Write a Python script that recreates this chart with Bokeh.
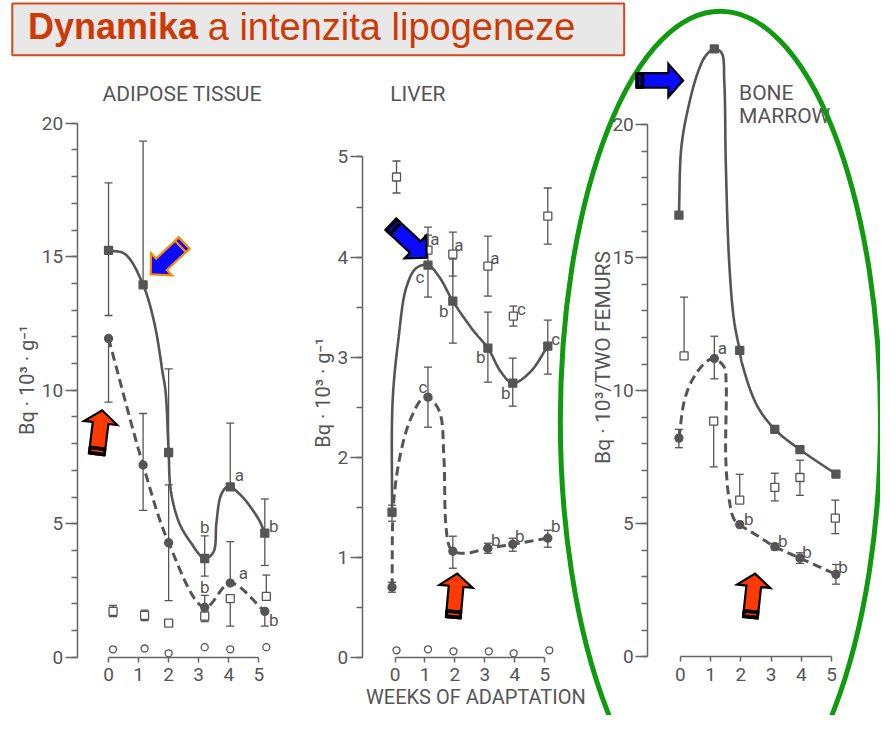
import numpy as np
from bokeh.plotting import figure
from bokeh.models import Range1d, LinearAxis, SingleIntervalTicker
from bokeh.core.properties import value
from bokeh.embed import file_html
from bokeh.resources import INLINE

# ------------------------------------------------------------------ data
week_ticks = [0, 1, 2, 3, 4, 5]

# ADIPOSE TISSUE  (Bq.10^3.g^-1)
adipose_weeks = [0.0, 1.15, 2.0, 3.2, 4.05, 5.2]
adipose_solid = [15.24, 13.95, 7.67, 3.70, 6.38, 4.65]
adipose_solid_up = [2.53, 5.38, 3.13, 0.85, 2.39, 1.28]
adipose_solid_dn = [2.44, 0.0, 0.0, 0.66, 0.0, 1.21]
adipose_solid_sig = ["", "", "", "b", "a", "b"]
adipose_dashed = [11.94, 7.20, 4.29, 1.87, 2.78, 1.72]
adipose_dashed_up = [0.0, 1.93, 2.17, 0.45, 1.55, 0.0]
adipose_dashed_dn = [2.38, 1.70, 2.17, 0.0, 0.0, 0.55]
adipose_dashed_sig = ["", "", "", "b", "a", "b"]
adipose_open_weeks = [0.15, 1.2, 2.0, 3.2, 4.05, 5.25]
adipose_square = [1.72, 1.57, 1.28, 1.54, 2.20, 2.28]
adipose_square_up = [0.22, 0.2, 0.1, 0.2, 0.0, 0.8]
adipose_square_dn = [0.2, 0.2, 0.1, 0.2, 1.03, 0.0]
adipose_circle = [0.30, 0.33, 0.15, 0.38, 0.30, 0.38]
# traced shape of the drawn solid curve
adipose_curve_x = [0.0, 0.55, 1.15, 1.53, 1.8, 1.9, 2.0, 2.07, 2.35, 2.73, 3.2, 3.49, 3.59, 3.73, 3.92, 4.05, 4.46, 5.0, 5.2]
adipose_curve_y = [15.24, 15.1, 13.95, 12.49, 10.66, 9.93, 7.67, 6.26, 5.04, 4.31, 3.70, 3.94, 5.04, 6.04, 6.37, 6.38, 6.0, 5.16, 4.65]

# LIVER  (Bq.10^3.g^-1)
liver_weeks = [-0.1, 1.1, 1.93, 3.1, 3.93, 5.1]
liver_solid = [1.45, 3.92, 3.56, 3.09, 2.74, 3.11]
liver_solid_up = [0.07, 0.30, 0.42, 0.36, 0.25, 0.26]
liver_solid_dn = [0.09, 0.32, 0.42, 0.34, 0.23, 0.28]
liver_solid_sig = ["", "c", "b", "b", "b", "c"]
liver_dashed = [0.70, 2.60, 1.06, 1.09, 1.13, 1.19]
liver_dashed_up = [0.05, 0.30, 0.15, 0.05, 0.06, 0.08]
liver_dashed_dn = [0.05, 0.30, 0.17, 0.05, 0.07, 0.09]
liver_dashed_sig = ["", "c", "", "b", "b", "b"]
liver_open_weeks = [0.05, 1.1, 1.93, 3.1, 3.95, 5.1]
liver_square = [4.80, 4.07, 4.03, 3.91, 3.41, 4.41]
liver_square_up = [0.16, 0.23, 0.22, 0.30, 0.10, 0.28]
liver_square_dn = [0.16, 0.0, 0.22, 0.30, 0.10, 0.28]
liver_square_sig = ["", "a", "a", "a", "c", ""]
liver_circle_weeks = [0.05, 1.1, 1.95, 3.13, 3.96, 5.15]
liver_circle = [0.07, 0.08, 0.06, 0.06, 0.04, 0.07]
liver_solid_curve_x = [-0.1, -0.08, 0.11, 0.38, 0.71, 1.1, 1.48, 1.93, 2.6, 3.1, 3.54, 3.93, 4.51, 5.1]
liver_solid_curve_y = [1.45, 2.56, 3.17, 3.70, 3.89, 3.92, 3.80, 3.56, 3.27, 3.09, 2.85, 2.74, 2.85, 3.11]
liver_dashed_curve_x = [-0.1, -0.05, 0.16, 0.49, 0.92, 1.1, 1.48, 1.63, 1.69, 1.8, 1.93, 2.35, 3.1, 3.93, 5.1]
liver_dashed_curve_y = [0.70, 1.53, 2.0, 2.36, 2.59, 2.60, 2.46, 2.0, 1.35, 1.12, 1.06, 1.04, 1.09, 1.13, 1.19]

# BONE MARROW  (Bq.10^3 / two femurs)
bm_weeks = [-0.05, 1.12, 1.96, 3.12, 3.95, 5.14]
bm_solid = [16.6, 22.85, 11.52, 8.55, 7.79, 6.87]
bm_dashed = [8.22, 11.21, 4.97, 4.14, 3.71, 3.10]
bm_dashed_up = [0.33, 0.84, 0.0, 0.12, 0.20, 0.37]
bm_dashed_dn = [0.36, 0.76, 0.0, 0.12, 0.20, 0.37]
bm_dashed_sig = ["", "a", "b", "b", "b", "b"]
bm_open_weeks = [0.12, 1.1, 1.96, 3.12, 3.95, 5.12]
bm_square = [11.31, 8.86, 5.89, 6.37, 6.74, 5.21]
bm_square_up = [2.21, 0.0, 0.97, 0.53, 0.65, 0.68]
bm_square_dn = [0.0, 1.72, 0.0, 0.51, 0.67, 0.58]
bm_solid_curve_x = [-0.05, 0.03, 0.25, 0.57, 0.84, 1.12, 1.36, 1.45, 1.5, 1.61, 1.77, 1.96, 2.03, 2.52, 3.12, 3.95, 5.14]
bm_solid_curve_y = [16.6, 19.15, 20.6, 21.95, 22.6, 22.85, 22.7, 21.6, 18.53, 14.86, 12.66, 11.52, 11.06, 9.47, 8.55, 7.79, 6.87]
bm_dashed_curve_x = [-0.05, 0.15, 0.48, 0.9, 1.12, 1.45, 1.51, 1.5, 1.61, 1.77, 1.96, 2.52, 3.12, 3.95, 5.14]
bm_dashed_curve_y = [8.22, 9.72, 10.58, 11.13, 11.21, 10.88, 10.33, 7.39, 5.92, 5.18, 4.97, 4.57, 4.14, 3.71, 3.10]

title_bold = "Dynamika"
title_rest = "a intenzita lipogeneze"

# ------------------------------------------------------------------ style / layout
W, H = 880, 715          # figure size in screen px
RW, RH = 896, 731        # design space (reference pixels), scaled onto the figure
GRAY = "#555555"
AXC = "#666666"
FONT = "Roboto"
PANELS = {
    "adip": dict(x0=110.0, xs=30.6, y0=671.5, ys=27.3, yaxis_px=78.0, ymax=20, yint=5, yminor=5),
    "liver": dict(x0=401.7, xs=30.5, y0=671.5, ys=102.3, yaxis_px=368.3, ymax=5, yint=1, yminor=2),
    "bm": dict(x0=692.3, xs=30.8, y0=671.0, ys=27.2, yaxis_px=659.0, ymax=20, yint=5, yminor=5),
}

p = figure(width=W, height=H, output_backend="svg", toolbar_location=None,
           x_range=Range1d(0, RW), y_range=Range1d(RH, 0),
           x_axis_type=None, y_axis_type=None, min_border=0,
           outline_line_color=None)
p.background_fill_color = "white"
p.border_fill_color = "white"

for name, c in PANELS.items():
    p.extra_x_ranges[name] = Range1d((0 - c["x0"]) / c["xs"], (RW - c["x0"]) / c["xs"])
    p.extra_y_ranges[name] = Range1d((c["y0"] - RH) / c["ys"], (c["y0"] - 0) / c["ys"])
    yax = LinearAxis(x_range_name=name, y_range_name=name,
                     fixed_location=(c["yaxis_px"] - c["x0"]) / c["xs"],
                     bounds=(0, c["ymax"]),
                     ticker=SingleIntervalTicker(interval=c["yint"], num_minor_ticks=c["yminor"]))
    yax.major_tick_out = 12
    yax.major_tick_in = 0
    yax.minor_tick_out = 6
    yax.minor_tick_in = 0
    yax.major_label_standoff = 2
    xax = LinearAxis(x_range_name=name, y_range_name=name, fixed_location=0,
                     bounds=(0, 5),
                     ticker=SingleIntervalTicker(interval=1, num_minor_ticks=0))
    xax.major_tick_out = 5
    xax.major_tick_in = 0
    xax.minor_tick_out = 0
    xax.major_label_standoff = 6
    for ax in (yax, xax):
        ax.axis_line_color = AXC
        ax.axis_line_width = 1.5
        ax.major_tick_line_color = AXC
        ax.major_tick_line_width = 1.5
        ax.minor_tick_line_color = AXC
        ax.minor_tick_line_width = 1.5
        ax.major_label_text_font = FONT
        ax.major_label_text_font_size = "19px"
        ax.major_label_text_color = GRAY
    p.add_layout(yax, "left")
    p.add_layout(xax, "below")


def smooth(xs, ys, c, n=14):
    """centripetal Catmull-Rom through traced curve points (knots spaced in pixels)."""
    P = np.column_stack([np.asarray(xs, float) * c["xs"], np.asarray(ys, float) * c["ys"]])
    P = np.vstack([2 * P[0] - P[1], P, 2 * P[-1] - P[-2]])
    out = []
    for i in range(1, len(P) - 2):
        p0, p1, p2, p3 = P[i - 1], P[i], P[i + 1], P[i + 2]
        t0 = 0.0
        t1 = t0 + max(np.linalg.norm(p1 - p0), 1e-6) ** 0.5
        t2 = t1 + max(np.linalg.norm(p2 - p1), 1e-6) ** 0.5
        t3 = t2 + max(np.linalg.norm(p3 - p2), 1e-6) ** 0.5
        for t in np.linspace(t1, t2, n, endpoint=False):
            A1 = (t1 - t) / (t1 - t0) * p0 + (t - t0) / (t1 - t0) * p1
            A2 = (t2 - t) / (t2 - t1) * p1 + (t - t1) / (t2 - t1) * p2
            A3 = (t3 - t) / (t3 - t2) * p2 + (t - t2) / (t3 - t2) * p3
            B1 = (t2 - t) / (t2 - t0) * A1 + (t - t0) / (t2 - t0) * A2
            B2 = (t3 - t) / (t3 - t1) * A2 + (t - t1) / (t3 - t1) * A3
            out.append((t2 - t) / (t2 - t1) * B1 + (t - t1) / (t2 - t1) * B2)
    out.append(P[-2])
    out = np.array(out)
    return out[:, 0] / c["xs"], out[:, 1] / c["ys"]


def errbars(xs, ys, up, dn, name):
    xs, ys, up, dn = (np.asarray(a, float) for a in (xs, ys, up, dn))
    top, bot = ys + up, ys - dn
    p.segment(x0=xs, y0=bot, x1=xs, y1=top, line_color=GRAY, line_width=1.3,
              x_range_name=name, y_range_name=name)
    cx = np.concatenate([xs[up > 0], xs[dn > 0]])
    cy = np.concatenate([top[up > 0], bot[dn > 0]])
    p.scatter(cx, cy, marker="dash", size=8, line_color=GRAY, line_width=1.3,
              x_range_name=name, y_range_name=name)


def curve(xs, ys, name, dashed=False):
    sx, sy = smooth(xs, ys, PANELS[name])
    p.line(sx, sy, line_color=GRAY, line_width=3 if dashed else 2.6,
           line_dash="9 5" if dashed else "solid", line_cap="butt",
           x_range_name=name, y_range_name=name)


def points(xs, ys, name, marker, filled=True, size=8):
    p.scatter(xs, ys, marker=marker, size=size, line_color=GRAY, line_width=1.3,
              fill_color=GRAY if filled else "white", x_range_name=name, y_range_name=name)


def sig(xs, ys, letters, offs, name):
    keep = [i for i, s in enumerate(letters) if s]
    p.text(x=[xs[i] for i in keep], y=[ys[i] for i in keep], text=[letters[i] for i in keep],
           x_offset=[offs[i][0] for i in keep], y_offset=[offs[i][1] for i in keep],
           text_font=value(FONT), text_font_size="17px", text_color=GRAY,
           text_align="center", text_baseline="middle", x_range_name=name, y_range_name=name)


# ---------------- adipose tissue
errbars(adipose_weeks, adipose_solid, adipose_solid_up, adipose_solid_dn, "adip")
errbars(adipose_weeks, adipose_dashed, adipose_dashed_up, adipose_dashed_dn, "adip")
errbars(adipose_open_weeks, adipose_square, adipose_square_up, adipose_square_dn, "adip")
curve(adipose_curve_x, adipose_curve_y, "adip")
curve(adipose_weeks, adipose_dashed, "adip", dashed=True)
points(adipose_weeks, adipose_solid, "adip", "square")
points(adipose_weeks, adipose_dashed, "adip", "circle")
points(adipose_open_weeks, adipose_square, "adip", "square", filled=False)
points(adipose_open_weeks, adipose_circle, "adip", "circle", filled=False, size=7)
sig(adipose_weeks, adipose_solid, adipose_solid_sig,
    [None, None, None, (0, -32), (9, -12), (9, -7)], "adip")
sig(adipose_weeks, adipose_dashed, adipose_dashed_sig,
    [None, None, None, (0, -20), (13, -10), (9, 9)], "adip")

# ---------------- liver
errbars(liver_weeks, liver_solid, liver_solid_up, liver_solid_dn, "liver")
errbars(liver_weeks, liver_dashed, liver_dashed_up, liver_dashed_dn, "liver")
errbars(liver_open_weeks, liver_square, liver_square_up, liver_square_dn, "liver")
curve(liver_solid_curve_x, liver_solid_curve_y, "liver")
curve(liver_dashed_curve_x, liver_dashed_curve_y, "liver", dashed=True)
points(liver_weeks, liver_solid, "liver", "square")
points(liver_weeks, liver_dashed, "liver", "circle")
points(liver_open_weeks, liver_square, "liver", "square", filled=False)
points(liver_circle_weeks, liver_circle, "liver", "circle", filled=False, size=7)
sig(liver_weeks, liver_solid, liver_solid_sig,
    [None, (-8, 12), (-9, 10), (-7, 9), (-7, 10), (8, -7)], "liver")
sig(liver_open_weeks, liver_square, liver_square_sig,
    [None, (7, -11), (6, -9), (7, -8), (8, -7), None], "liver")
sig(liver_weeks, liver_dashed, liver_dashed_sig,
    [None, (-5, -10), None, (8, -8), (7, -8), (8, -12)], "liver")

# ---------------- bone marrow
errbars(bm_weeks, bm_dashed, bm_dashed_up, bm_dashed_dn, "bm")
errbars(bm_open_weeks, bm_square, bm_square_up, bm_square_dn, "bm")
curve(bm_solid_curve_x, bm_solid_curve_y, "bm")
curve(bm_dashed_curve_x, bm_dashed_curve_y, "bm", dashed=True)
points(bm_weeks, bm_solid, "bm", "square")
points(bm_weeks, bm_dashed, "bm", "circle")
points(bm_open_weeks, bm_square, "bm", "square", filled=False)
sig(bm_weeks, bm_dashed, bm_dashed_sig,
    [None, (8, -11), (9, -6), (8, -6), (7, -6), (7, -7)], "bm")

# ---------------- panel texts (reference-pixel coordinates on the default ranges)
txt = dict(text_font=value(FONT), text_color=GRAY)
p.text(x=[185, 425], y=[96, 96], text=["ADIPOSE TISSUE", "LIVER"], text_font_size="21px",
       text_align="center", text_baseline="middle", **txt)
p.text(x=[752, 752], y=[95, 118], text=["BONE", "MARROW"], text_font_size="21px",
       text_align="left", text_baseline="middle", **txt)
p.text(x=[27, 328], y=[388, 401], text=["Bq · 10³ · g⁻¹", "Bq · 10³ · g⁻¹"], angle=np.pi / 2,
       text_font_size="20px", text_align="center", text_baseline="middle", **txt)
p.text(x=[613], y=[365], text=["Bq · 10³/TWO FEMURS"], angle=np.pi / 2,
       text_font_size="21px", text_align="center", text_baseline="middle", **txt)
p.text(x=[484], y=[712], text=["WEEKS OF ADAPTATION"], text_font_size="20px",
       text_align="center", text_baseline="middle", **txt)

# ---------------- title box
p.quad(left=[12], right=[635], top=[3], bottom=[56], fill_color="#e8e8e8",
       line_color="#d4481c", line_width=2)
p.text(x=[28], y=[27], text=[title_bold], text_font=value("Liberation Sans"),
       text_font_style="bold", text_font_size="36px", text_color="#cc3a06",
       text_align="left", text_baseline="middle")
p.text(x=[211], y=[27], text=[title_rest], text_font=value("Liberation Sans"),
       text_font_size="38px", text_color="#cc3a06",
       text_align="left", text_baseline="middle")

# ---------------- green ellipse
p.ellipse(x=[733], y=[430], width=[326], height=[838], fill_color=None,
          line_color="#109a10", line_width=5)


# ---------------- arrows
def arrow(tail, tip, body, head, hlen, fill, outline, band_color="black", band=7):
    t = np.array(tail, float)
    h = np.array(tip, float)
    u = (h - t) / np.linalg.norm(h - t)
    n = np.array([-u[1], u[0]])
    neck = h - u * hlen
    pts = [t + n * body / 2, neck + n * body / 2, neck + n * head / 2, h,
           neck - n * head / 2, neck - n * body / 2, t - n * body / 2]
    p.patch([q[0] for q in pts], [q[1] for q in pts], fill_color=fill,
            line_color=outline, line_width=2.2, line_join="miter")
    b = [t + n * body / 2, t + u * band + n * body / 2, t + u * band - n * body / 2, t - n * body / 2]
    p.patch([q[0] for q in b], [q[1] for q in b], fill_color=band_color,
            line_color=outline, line_width=2.2)
    m0 = t + u * band * 0.5 + n * (body / 2 - 2)
    m1 = t + u * band * 0.5 - n * (body / 2 - 2)
    p.line([m0[0], m1[0]], [m0[1], m1[1]], line_color=fill, line_width=1.5)


arrow((187, 248), (153, 280), 16, 31, 15, "#0a0aff", "#ff8a00", band_color="#0a0aff", band=5)
arrow((98, 464), (103.5, 419), 16, 34, 13, "#ff3a00", "black")
arrow((397.5, 228.7), (434, 263), 16, 32, 16, "#0a0aff", "black")
arrow((461, 631), (465, 586), 15, 34, 13, "#ff3a00", "black")
arrow((647.5, 81.7), (695, 81.7), 15, 34, 15, "#0a0aff", "black")
arrow((763.5, 631), (768.3, 586), 15, 34, 13, "#ff3a00", "black")

open("out.html", "w").write(file_html(p, INLINE))
